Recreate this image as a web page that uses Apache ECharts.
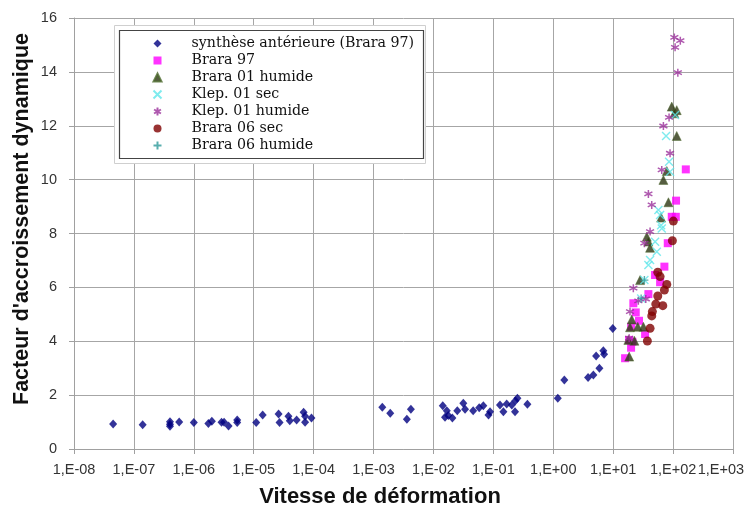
<!DOCTYPE html>
<html><head><meta charset="utf-8">
<script src="https://cdn.jsdelivr.net/npm/echarts@6/dist/echarts.min.js"></script>
<style>html,body{margin:0;padding:0;background:#fff}#c{width:752px;height:510px}</style>
</head><body><div id="c"></div>
<script>
// ---- data: [strain rate (1/s), dynamic increase factor] ----
const seriesNames = ['synthèse antérieure (Brara 97)','Brara 97','Brara 01 humide','Klep. 01 sec','Klep. 01 humide','Brara 06 sec','Brara 06 humide'];
const xTicks = [1e-8,1e-7,1e-6,1e-5,1e-4,1e-3,1e-2,1e-1,1e0,1e1,1e2,1e3];
const yTicks = [0,2,4,6,8,10,12,14,16];

const synthese = [
 [4.5e-8,0.93],[1.4e-7,0.90],[4.0e-7,1.01],[4.0e-7,0.92],[4.0e-7,0.84],[5.7e-7,1.00],[1.0e-6,0.98],
 [1.75e-6,0.95],[2.0e-6,1.03],[2.9e-6,0.99],[3.2e-6,0.99],[3.8e-6,0.85],[5.3e-6,1.08],[5.3e-6,0.98],
 [1.1e-5,0.98],[1.41e-5,1.26],[2.6e-5,1.30],[2.7e-5,0.98],[3.8e-5,1.22],[4.0e-5,1.05],[5.2e-5,1.08],
 [6.8e-5,1.36],[7.2e-5,1.22],[7.2e-5,0.99],[9.2e-5,1.15],
 [1.4e-3,1.55],[1.9e-3,1.33],[3.6e-3,1.10],[4.2e-3,1.48],
 [1.43e-2,1.61],[1.67e-2,1.42],[1.56e-2,1.18],[1.77e-2,1.24],[2.07e-2,1.15],[2.5e-2,1.42],[3.15e-2,1.70],
 [3.37e-2,1.48],[4.6e-2,1.42],[5.8e-2,1.53],[6.8e-2,1.61],[8.3e-2,1.26],[8.8e-2,1.38],
 [0.129,1.63],[0.147,1.38],[0.167,1.67],[0.203,1.63],[0.23,1.38],[0.233,1.79],[0.252,1.88],[0.37,1.66],
 [1.19,1.88],[1.53,2.56],[3.81,2.65],[4.67,2.75],[5.89,3.0],[5.19,3.45],[6.85,3.65],[7.05,3.52],[9.84,4.47]
];
const brara97 = [
 [163,10.38],[112,9.22],[111,8.62],[95,8.62],[81.5,7.64],[71.6,6.77],[50,6.46],[60.7,6.19],[38.7,5.75],
 [21.7,5.41],[23.8,5.07],[27,4.76],[19.9,4.54],[34.1,4.27],[18.4,4.05],[20.9,3.98],[19.9,3.76],[15.8,3.37]
];
const brara01h = [
 [95,12.71],[115,12.58],[105,12.46],[115,11.62],[78.5,10.32],[68.9,9.99],[83.6,9.16],[63.1,8.59],
 [36.4,7.88],[38.7,7.70],[41.3,7.47],[28.1,6.27],[20.4,4.81],[19.1,4.52],[25.7,4.54],[31.9,4.54],
 [17.9,4.05],[22.6,4.02],[18.5,3.43]
];
const klep01s = [
 [108,12.40],[76.4,11.62],[85.7,10.66],[89,10.29],[56.9,8.87],[60.7,8.69],[63.1,8.31],[64.7,8.19],
 [50.1,7.69],[53.5,7.32],[41.3,7.02],[38.7,6.83],[33.2,6.27],[29.3,5.59]
];
const klep01h = [
 [105,15.28],[132,15.16],[108,14.91],[120,13.97],[85.7,12.31],[68.9,11.99],[89,10.98],[64.7,10.36],
 [38.7,9.47],[44,9.06],[41.3,8.07],[33.2,7.64],[21.7,5.97],[26.3,5.50],[35,5.57],[19.1,5.10],[18.5,4.11]
];
const brara06s = [
 [101,8.46],[97.3,7.73],[55.5,6.56],[60.7,6.40],[78.5,6.11],[71.6,5.90],[55.5,5.68],[51.4,5.38],
 [67.3,5.32],[45.1,5.10],[44,4.94],[41.3,4.48],[37.2,4.01]
];
const brara06h = [[33.2,6.27],[29.3,5.59]];

const xAxisTitle = 'Vitesse de déformation';
const yAxisTitle = "Facteur d'accroissement dynamique";

// ---- chart ----
const chart = echarts.init(document.getElementById('c'), null, {renderer:'canvas'});
const tickFont = {fontFamily:'Liberation Sans', fontSize:14.5, color:'#333'};
const fmtX = v => {
  const e = Math.round(Math.log10(v)); const a = Math.abs(e);
  const s = '1,E' + (e<0?'-':'+') + (a<10?'0':'') + a;
  return e === 3 ? s + '\u00a0\u00a0\u00a0\u00a0\u00a0\u00a0' : s;
};
const crossPath = 'path://M0 0L10 10M10 0L0 10';
const starPath = 'path://M5 0L5 10M0.7 2.5L9.3 7.5M0.7 7.5L9.3 2.5';
const plusPath = 'path://M5 0L5 10M0 5L10 5';

const defs = [
 {data:synthese, symbol:'diamond', symbolSize:[8,9], itemStyle:{color:'#000080'}},
 {data:brara97, symbol:'rect', symbolSize:8, itemStyle:{color:'#ff00ff'}},
 {data:brara01h, symbol:'triangle', symbolSize:9, itemStyle:{color:'#2c3512', borderColor:'#4d6b2e', borderWidth:0.6}},
 {data:klep01s, symbol:crossPath, symbolSize:8, itemStyle:{color:'none', borderColor:'#5fe6ea', borderWidth:1.4}},
 {data:klep01h, symbol:starPath, symbolSize:8, itemStyle:{color:'none', borderColor:'#9b2f9b', borderWidth:1.5}},
 {data:brara06s, symbol:'circle', symbolSize:9, itemStyle:{color:'#800000'}},
 {data:brara06h, symbol:plusPath, symbolSize:8, itemStyle:{color:'none', borderColor:'#2e9a9a', borderWidth:1.4}}
];

const series = defs.map((d,i)=>({
  type:'scatter', name:seriesNames[i], data:d.data, symbol:d.symbol, symbolSize:d.symbolSize,
  itemStyle:d.itemStyle, animation:false, z:2+i
}));

chart.setOption({
  backgroundColor:'#fff',
  animation:false,
  grid:{left:74, right:19, top:18, bottom:61, containLabel:false, outerBoundsMode:'none'},
  xAxis:{
    type:'log', logBase:10, min:xTicks[0], max:xTicks[xTicks.length-1], splitNumber:11,
    axisLine:{show:true, onZero:false, lineStyle:{color:'#a0a0a0', width:1}},
    axisTick:{show:true, length:5, lineStyle:{color:'#a0a0a0'}, customValues:xTicks},
    minorTick:{show:false},
    splitLine:{show:true, lineStyle:{color:'#a6a6a6', width:1}},
    axisLabel:Object.assign({formatter:fmtX, margin:13, showMinLabel:true, showMaxLabel:true, customValues:xTicks, hideOverlap:false}, tickFont)
  },
  yAxis:{
    type:'value', min:yTicks[0], max:yTicks[yTicks.length-1], interval:2,
    axisLine:{show:true, lineStyle:{color:'#a0a0a0', width:1}},
    axisTick:{show:true, length:5, lineStyle:{color:'#a0a0a0'}},
    splitLine:{show:true, lineStyle:{color:'#a6a6a6', width:1}},
    axisLabel:Object.assign({margin:17}, tickFont)
  },
  legend:{
    orient:'vertical', left:151, top:35, padding:0, itemGap:0, z:60,
    itemWidth:8, itemHeight:8,
    textStyle:{fontFamily:'DejaVu Serif', fontSize:14.2, color:'#111', lineHeight:17, padding:[0,0,0,25]},
    data:seriesNames, selectedMode:false
  },
  graphic:[
    {type:'rect', shape:{x:114.5, y:25.5, width:311, height:138}, style:{fill:'#fff', stroke:'#cfcfcf', lineWidth:1}, z:50, silent:true},
    {type:'rect', shape:{x:119.5, y:30.5, width:304, height:128}, style:{fill:'#fff', stroke:'#444', lineWidth:1.2}, z:51, silent:true},
    {type:'text', x:380, y:497, style:{text:xAxisTitle, fontFamily:'Liberation Sans', fontWeight:'bold', fontSize:22, fill:'#111', align:'center', verticalAlign:'middle'}, silent:true},
    {type:'text', x:22, y:219, rotation:Math.PI/2, style:{text:yAxisTitle, fontFamily:'Liberation Sans', fontWeight:'bold', fontSize:21.5, fill:'#111', align:'center', verticalAlign:'middle'}, silent:true}
  ],
  series:series
});
</script></body></html>
